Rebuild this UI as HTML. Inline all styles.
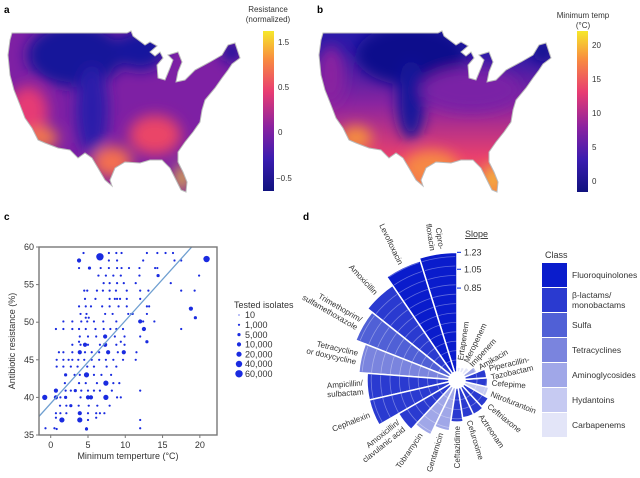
<!DOCTYPE html>
<html><head><meta charset="utf-8"><style>
body{margin:0;background:#fff;overflow:hidden;}
svg{display:block;font-family:"Liberation Sans",sans-serif;}
</style></head><body>
<svg id="fig" width="640" height="478" viewBox="0 0 640 478" xmlns="http://www.w3.org/2000/svg">
<defs>
<filter id="blur" x="-20%" y="-20%" width="140%" height="140%"><feGaussianBlur stdDeviation="7"/></filter>
<clipPath id="usA"><path id="usPath" d="M12,33 L127,33 L131,31 L133,36 L145,45 L150,42 L157,46 L150,52 L155,56 L160,52 L163,58 L157,65 L158,78 L165,80 L170,68 L173,60 L168,55 L178,52 L182,62 L178,72 L176,82 L185,80 L195,70 L210,62 L222,55 L228,45 L235,43 L240,58 L232,64 L228,70 L222,78 L215,88 L205,100 L202,110 L200,122 L193,132 L185,142 L178,152 L178,162 L183,172 L187,182 L186,192 L181,190 L175,178 L170,168 L162,160 L150,160 L140,163 L125,162 L115,168 L110,180 L112,186 L105,180 L98,168 L92,158 L85,153 L78,158 L70,150 L58,148 L45,143 L38,140 L32,128 L25,118 L20,105 L14,90 L10,75 L8,55 L10,40 Z"/></clipPath>
<linearGradient id="cmap" x1="0" y1="1" x2="0" y2="0">
<stop offset="0" stop-color="#10127e"/><stop offset="0.2" stop-color="#3a1cb0"/><stop offset="0.4" stop-color="#8a22a0"/><stop offset="0.62" stop-color="#e83c72"/><stop offset="0.82" stop-color="#f88a40"/><stop offset="1" stop-color="#f6e82a"/></linearGradient>
<linearGradient id="bBase" x1="0" y1="0" x2="0" y2="1">
<stop offset="0.15" stop-color="#2a1aa8"/><stop offset="0.45" stop-color="#8a24a0"/><stop offset="0.75" stop-color="#e8406e"/><stop offset="1" stop-color="#f8843e"/></linearGradient>
</defs>

<text x="4" y="13" font-size="10" font-weight="bold">a</text>
<g>
<g clip-path="url(#usA)">
<rect x="0" y="25" width="250" height="175" fill="#7e20a4"/>
<g filter="url(#blur)">
<ellipse cx="75" cy="55" rx="48" ry="32" fill="#14149a"/>
<ellipse cx="140" cy="50" rx="26" ry="20" fill="#16169e"/>
<ellipse cx="92" cy="110" rx="16" ry="45" fill="#2a1eaa"/>
<ellipse cx="232" cy="52" rx="10" ry="10" fill="#12129a"/>
<ellipse cx="28" cy="112" rx="20" ry="26" fill="#e63a74"/>
<ellipse cx="42" cy="138" rx="16" ry="11" fill="#f47a48"/>
<ellipse cx="112" cy="162" rx="20" ry="16" fill="#f47050"/>
<ellipse cx="155" cy="135" rx="26" ry="20" fill="#ea4468"/>
<ellipse cx="182" cy="178" rx="6" ry="14" fill="#f6d830"/>
</g></g>
<use href="#usPath" fill="none" stroke="#bbb" stroke-width="1"/>
</g>
<rect x="263" y="31" width="11" height="160" fill="url(#cmap)"/>
<text x="268" y="12" font-size="8" text-anchor="middle" fill="#333"><tspan x="268">Resistance</tspan><tspan x="268" dy="10">(normalized)</tspan></text>
<g font-size="8" fill="#333">
<text x="278" y="45">1.5</text><text x="278" y="90">0.5</text><text x="278" y="135">0</text><text x="276" y="181">−0.5</text></g>

<text x="317" y="13" font-size="10" font-weight="bold">b</text>
<g transform="translate(311,0)">
<g clip-path="url(#usA)">
<rect x="0" y="25" width="250" height="175" fill="url(#bBase)"/>
<g filter="url(#blur)">
<ellipse cx="20" cy="75" rx="14" ry="30" fill="#8a24a0"/>
<ellipse cx="100" cy="55" rx="55" ry="30" fill="#10108c"/>
<ellipse cx="100" cy="100" rx="14" ry="40" fill="#14149a"/>
<ellipse cx="232" cy="52" rx="10" ry="10" fill="#10108c"/>
<ellipse cx="160" cy="90" rx="50" ry="22" fill="#7a22a6"/>
<ellipse cx="45" cy="138" rx="16" ry="12" fill="#f6903e"/>
<ellipse cx="120" cy="168" rx="28" ry="18" fill="#f68844"/>
<ellipse cx="182" cy="178" rx="6" ry="14" fill="#f6d830"/>
</g></g>
<use href="#usPath" fill="none" stroke="#bbb" stroke-width="1"/>
</g>
<rect x="577" y="31" width="11" height="161" fill="url(#cmap)"/>
<text x="583" y="18" font-size="8" text-anchor="middle" fill="#333"><tspan x="583">Minimum temp</tspan><tspan x="583" dy="10">(°C)</tspan></text>
<g font-size="8" fill="#333">
<text x="592" y="48">20</text><text x="592" y="82">15</text><text x="592" y="116">10</text><text x="592" y="150">5</text><text x="592" y="184">0</text></g>

<text x="4" y="220" font-size="10" font-weight="bold">c</text>
<g id="scatter"></g>

<text x="303" y="220" font-size="10" font-weight="bold">d</text>
<g id="polar"></g>
<g id="classLegend"></g>
</svg>
<script>
const rowResistance = [59.2,58.2,57.2,56.2,55.2,54.2,53.1,52.1,51.1,50.6,50.1,49.1,48.1,47.4,47.0,46.0,45.0,44.1,43.0,41.9,40.9,40.0,38.9,37.9,37.3,37.0,35.9];
const rowTemps = [
[4.4,7.8,8.8,9.5,12.9,14.3,15.4,16.4],
[7.8,8.9,12.4,16.6,17.5],
[3.8,6.7,7.8,8.9,9.5,10.5,11.9,14.0,14.3],
[6.4,7.4,8.4,9.4,11.9,19.9],
[7.1,7.9,8.9,9.8,11.4,16.1],
[4.5,4.9,6.2,7.0,7.9,8.75,10.2,12.0,13.1,17.5,19.3],
[4.6,6.0,7.9,8.6,8.9,9.3,10.2,12.0],
[3.8,4.7,5.4,6.9,7.9,9.1,10.2,12.9,13.2],
[4.0,4.8,7.3,8.3,10.4,11.0,12.9,10.8],
[4.7,5.1],
[1.7,2.9,4.1,4.9,5.8,7.05,8.8,12.4,13.9],
[0.7,1.7,2.9,3.8,4.7,6.0,7.1,8.0,8.8,9.7,17.5],
[3.9,5.0,6.1,8.6,9.9,12.0],
[3.8,9.4],
[2.9,4.0,5.0,6.6,8.8,9.9],
[1.1,1.7,2.9,4.6,5.5,6.5,9.0,11.5],
[0.8,1.7,2.4,2.9,3.7,4.5,5.5,6.5,7.4,8.4,9.7,11.4],
[0.8,1.7,2.7,3.6,4.9,5.8,7.5,8.8],
[3.2,3.9,5.8,6.8,8.1],
[1.9,3.8,4.7,6.2,8.4,9.2],
[2.0,2.7,4.1,5.0,5.8,6.6,8.2,12.0],
[1.3,4.0,8.9,9.4],
[1.25,2.1,3.75,5.1,6.25,7.9],
[0.7,1.3,2.1,5.0,6.1,6.6,7.2],
[0.7,6.1],
[5.0,12.0],
[-0.7,0.5,4.8,12.0]];
const bigTemp = [6.6,20.9,3.8,5.2,14.4,18.8,19.4,12.0,12.5,7.3,12.9,4.6,7.3,3.9,7.7,9.8,2.0,4.8,7.4,0.7,3.3,-0.8,0.7,2.0,5.0,5.4,7.4,2.7,3.9,1.5,3.9,0.8,4.8];
const bigResist = [58.7,58.4,58.2,57.2,56.2,51.8,50.6,50.1,49.1,48.1,47.4,47.0,47.0,46.0,46.0,46.0,43.0,43.0,41.9,40.9,40.9,40.0,40.0,40.0,40.0,40.0,40.0,38.9,37.9,37.0,37.0,35.8,35.8];
const bigSize = [6,5,3,2,2,3,2,3,3,3,2,3,3,3,3,3,2,4,4,3,2,4,3,2,3,3,4,2,3,4,4,1,2];
const xTicks = [0,5,10,15,20];
const yTicks = [35,40,45,50,55,60];
const legendLabels = ["10","1,000","5,000","10,000","20,000","40,000","60,000"];
const fitSlope = 1.1, fitIntercept = 39.2;

const drugs = ["Cipro-\nfloxacin","Levofloxacin","Amoxicillin","Trimethoprim/\nsulfamethoxazole","Tetracycline\nor doxycycline","Ampicillin/\nsulbactam","Cephalexin","Amoxicillin/\nclavulanic acid","Tobramycin","Gentamicin","Ceftazidime","Cefuroxime","Aztreonam","Ceftriaxone","Nitrofurantoin","Cefepime","Piperacillin-\nTazobactam","Amikacin","Imipenem","Meropenem","Ertapenem"];
const slopes = [1.23,1.20,1.09,1.03,0.92,0.83,0.83,0.59,0.52,0.42,0.32,0.28,0.28,0.26,0.22,0.20,0.19,0.10,0.04,0.02,0.01];
const drugClass = [0,0,1,2,3,1,1,1,4,4,1,1,1,1,5,1,1,4,6,6,6];
const classNames = ["Fluoroquinolones","β-lactams/\nmonobactams","Sulfa","Tetracyclines","Aminoglycosides","Hydantoins","Carbapenems"];
const classColors = ["#0a1ccc","#2a3ad0","#5060d6","#7a84de","#a0a7e8","#c6caf2","#e3e5f8"];
const slopeTicks = [1.23,1.05,0.85];

const NS = "http://www.w3.org/2000/svg";
function mk(tag, attrs, parent){const e=document.createElementNS(NS,tag);for(const k in attrs)e.setAttribute(k,attrs[k]);parent.appendChild(e);return e;}

(function(){
const g = document.getElementById('scatter');
const L=39,R=217,T=247,B=435, x0=-1.57,x1=22.3,y0=35,y1=60;
const X=v=>L+(v-x0)/(x1-x0)*(R-L), Y=v=>B-(v-y0)/(y1-y0)*(B-T);
const sizeR=[0.6,1.1,1.6,2.1,2.6,3.2,3.7];
const cp = mk('clipPath',{id:'plotClip'},g); mk('rect',{x:L,y:T,width:R-L,height:B-T},cp);
const pts = mk('g',{'clip-path':'url(#plotClip)',fill:'#1a2be0'},g);


rowResistance.forEach((r,i)=>rowTemps[i].forEach(t=>{
  const c=mk('circle',{cx:X(t),cy:Y(r),r:1.1},pts);
  
  
}));
bigTemp.forEach((t,i)=>{
  const c=mk('circle',{cx:X(t),cy:Y(bigResist[i]),r:sizeR[bigSize[i]]},pts);
  
  
});
const ln=mk('line',{x1:X(x0),y1:Y(fitIntercept+fitSlope*x0),x2:X((y1-fitIntercept)/fitSlope),y2:Y(y1),stroke:'#6f9fd0','stroke-width':1.3,'clip-path':'url(#plotClip)'},g);


const fr=mk('rect',{x:L,y:T,width:R-L,height:B-T,fill:'none',stroke:'#777','stroke-width':1.4},g);


xTicks.forEach(v=>{mk('line',{x1:X(v),x2:X(v),y1:B,y2:B+3,stroke:'#777'},g);
  const t=mk('text',{x:X(v),y:B+13,'font-size':9,'text-anchor':'middle',fill:'#333'},g);t.textContent=v;
  
  });
yTicks.forEach(v=>{mk('line',{x1:L-3,x2:L,y1:Y(v),y2:Y(v),stroke:'#777'},g);
  const t=mk('text',{x:L-5,y:Y(v)+3,'font-size':9,'text-anchor':'end',fill:'#333'},g);t.textContent=v;
  
  });
const xt=mk('text',{x:128,y:459,'font-size':9,'text-anchor':'middle',fill:'#333'},g);xt.textContent='Minimum temperture (°C)';


const yt=mk('text',{x:0,y:0,'font-size':9,'text-anchor':'middle',fill:'#333',transform:'translate(15,341) rotate(-90)'},g);yt.textContent='Antibiotic resistance (%)';


const lg=mk('g',{},g);


const lt=mk('text',{x:234,y:308,'font-size':9,fill:'#333'},lg);lt.textContent='Tested isolates';
legendLabels.forEach((s,i)=>{const y=315+i*9.8;
  mk('circle',{cx:239,cy:y,r:sizeR[i],fill:'#1a2be0'},lg);
  const t=mk('text',{x:245,y:y+3.2,'font-size':9,fill:'#333'},lg);t.textContent=s;
  
  });
})();

(function(){
const g=document.getElementById('polar');
const cx=457,cy=380,r0=8, R=s=>12+94*s, n=drugs.length, step=360/n;
const pt=(r,a)=>{const rad=a*Math.PI/180;return [cx+r*Math.sin(rad),cy-r*Math.cos(rad)];};
drugs.forEach((d,i)=>{
  const a1=-i*step, a2=-(i+1)*step, r=R(slopes[i]);
  const p1=pt(r0,a1),p2=pt(r,a1),p3=pt(r,a2),p4=pt(r0,a2);
  const p=mk('path',{d:`M${p1} L${p2} A${r},${r} 0 0 0 ${p3} L${p4} A${r0},${r0} 0 0 1 ${p1} Z`,fill:classColors[drugClass[i]],stroke:'#fff','stroke-width':1.5},g);
  
  
  // inner ring arcs within this bar
  let dArc='';
  for(let rr=20;rr<r-1;rr+=9.4){const q1=pt(rr,a1-0.8),q2=pt(rr,a2+0.8);dArc+=`M${q1} A${rr},${rr} 0 0 0 ${q2} `;}
  if(dArc){mk('path',{d:dArc,fill:'none',stroke:'#fff','stroke-opacity':0.35,'stroke-width':0.8},g);}
  let am=-(i+0.5)*step; let phi=((am%360)+360)%360;
  const lr=Math.max(r+4,20);
  const lp=pt(lr,phi);
  const right=phi<180;
  const rot=right?phi-90:phi+90;
  const lines=d.split('\n');
  const t=mk('text',{transform:`translate(${lp[0].toFixed(1)},${lp[1].toFixed(1)}) rotate(${rot.toFixed(1)})`,'font-size':8,fill:'#333','text-anchor':right?'start':'end'},g);
  lines.forEach((s,k)=>{const ts=mk('tspan',{x:0,dy:k===0?(3-(lines.length-1)*4.5):9},t);ts.textContent=s;});
  
  
});
mk('circle',{cx,cy,r:r0,fill:'#fff'},g);
const ax=mk('g',{},g);


slopeTicks.forEach(s=>{const y=cy-R(s);
  mk('line',{x1:cx,x2:cx+4,y1:y,y2:y,stroke:'#2a4ae0','stroke-width':1.2},ax);
  const t=mk('text',{x:cx+7,y:y+3,'font-size':9,fill:'#333'},ax);t.textContent=s.toFixed(2);
  
  });
const st=mk('text',{x:465,y:237,'font-size':9,fill:'#333','text-decoration':'underline'},ax);st.textContent='Slope';


})();

(function(){
const g=document.getElementById('classLegend');
const ct=mk('text',{x:545,y:258,'font-size':9,fill:'#333'},g);ct.textContent='Class';


classNames.forEach((c,i)=>{const y=263+i*25;
  const r=mk('rect',{x:542,y:y,width:25,height:24,fill:classColors[i]},g);
  
  
  const lines=c.split('\n');
  const t=mk('text',{x:572,y:y+15-(lines.length-1)*5,'font-size':8.5,fill:'#333'},g);
  lines.forEach((s,k)=>{const ts=mk('tspan',{x:572,dy:k?10:0},t);ts.textContent=s;});
  
  
});
})();
</script>
</body></html>
